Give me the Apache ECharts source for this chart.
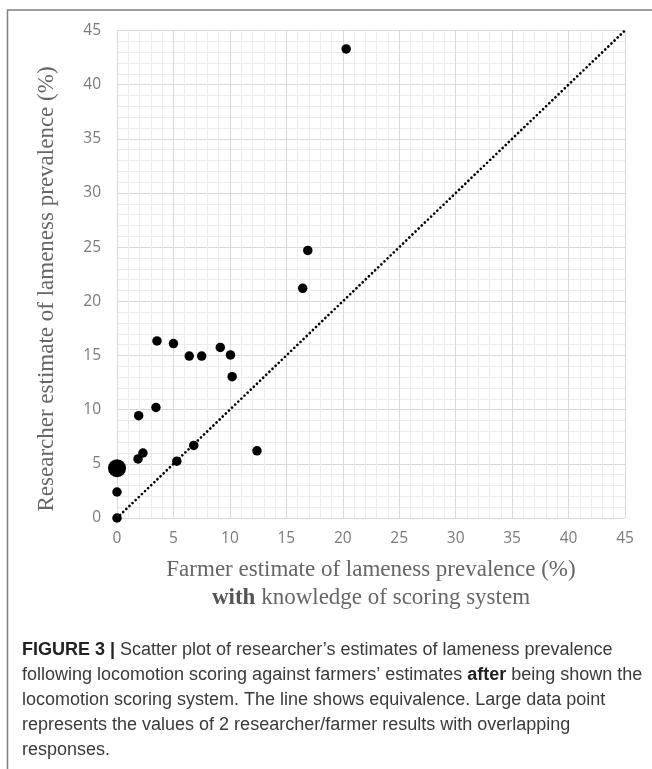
<!DOCTYPE html>
<html>
<head>
<meta charset="utf-8">
<script src="https://cdn.jsdelivr.net/npm/echarts@6/dist/echarts.min.js"></script>
<style>
html,body{margin:0;padding:0;background:#fff;}
#chart{width:652px;height:769px;}
</style>
</head>
<body>
<div id="chart"></div>
<script>
// Farmer estimate (x) vs researcher estimate (y), %
const farmerX = [0, 0, 1.86, 2.3, 1.92, 3.45, 3.54, 5.0, 6.4, 7.5, 9.15, 10.05, 10.2, 5.3, 6.8, 12.4, 16.45, 16.9, 20.3];
const researcherY = [0, 2.4, 5.45, 6.0, 9.45, 10.2, 16.35, 16.1, 14.95, 14.95, 15.75, 15.05, 13.05, 5.25, 6.7, 6.2, 21.2, 24.7, 43.3];
// Two overlapping results drawn as one large point
const overlapX = [0];
const overlapY = [4.6];
// Equivalence line
const lineX = [0, 45];
const lineY = [0, 45];
const axisMin = 0, axisMax = 45, axisStep = 5;

const xTitle = 'Farmer estimate of lameness prevalence (%)';
const xTitle2Bold = 'with';
const xTitle2Rest = ' knowledge of scoring system';
const yTitle = 'Researcher estimate of lameness prevalence (%)';
const captionLines = [
  ['FIGURE 3 |', ' Scatter plot of researcher\u2019s estimates of lameness prevalence'],
  ['', 'following locomotion scoring against farmers\u2019 estimates ', 'after', ' being shown the'],
  ['', 'locomotion scoring system. The line shows equivalence. Large data point'],
  ['', 'represents the values of 2 researcher/farmer results with overlapping'],
  ['', 'responses.']
];

const pts = farmerX.map((x, i) => [x, researcherY[i]]);
const bigPts = overlapX.map((x, i) => [x, overlapY[i]]);
const linePts = lineX.map((x, i) => [x, lineY[i]]);

function captionText() {
  return captionLines.map(parts => {
    let s = '';
    parts.forEach((p, i) => {
      if (!p) return;
      const bold = (i === 0) || (i === 2);
      s += bold ? '{b|' + p + '}' : '{n|' + p + '}';
    });
    return s;
  }).join('\n');
}

const gridLeft = 117, gridRight = 625, gridTop = 30.5, gridBottom = 518;
const serif = '"Liberation Serif", "Times New Roman", serif';
const sans = '"Liberation Sans", Arial, Helvetica, sans-serif';

const axisCommon = {
  type: 'value',
  min: axisMin,
  max: axisMax,
  interval: axisStep,
  axisLine: { show: true, lineStyle: { color: '#d9d9d9', width: 1 } },
  axisTick: { show: false },
  axisLabel: { color: '#7a7a7a', fontSize: 15.5, fontFamily: '"Open Sans", "Noto Sans", sans-serif' },
  splitLine: { show: true, lineStyle: { color: '#d9d9d9', width: 1 } },
  minorTick: { show: false, splitNumber: 5 },
  minorSplitLine: { show: true, lineStyle: { color: '#ececec', width: 1 } }
};

const chart = echarts.init(document.getElementById('chart'), null, { renderer: 'canvas' });
chart.setOption({
  backgroundColor: '#ffffff',
  animation: false,
  grid: { left: gridLeft, right: 652 - gridRight, top: gridTop, bottom: 769 - gridBottom, containLabel: false },
  xAxis: Object.assign({}, axisCommon, { axisLabel: Object.assign({}, axisCommon.axisLabel, { margin: 13 }) }),
  yAxis: Object.assign({}, axisCommon, { axisLabel: Object.assign({}, axisCommon.axisLabel, { margin: 16 }) }),
  series: [
    {
      type: 'line',
      data: linePts,
      symbol: 'none',
      lineStyle: { color: '#000', width: 2.7, type: [0.01, 4.3], cap: 'round' },
      z: 2
    },
    {
      type: 'scatter',
      data: pts,
      symbol: 'circle',
      symbolSize: 9.5,
      itemStyle: { color: '#000', opacity: 1 },
      z: 3
    },
    {
      type: 'scatter',
      data: bigPts,
      symbol: 'circle',
      symbolSize: 18,
      itemStyle: { color: '#000', opacity: 1 },
      z: 3
    }
  ],
  graphic: [
    {
      type: 'polyline',
      shape: { points: [[7.5, 769], [7.5, 10], [652, 10]] },
      style: { stroke: '#7f7f7f', lineWidth: 1.5, fill: null },
      silent: true
    },
    {
      type: 'text',
      style: {
        text: xTitle, x: 371, y: 570, textAlign: 'center', textVerticalAlign: 'middle',
        fontSize: 23, fontFamily: serif, fill: '#666666'
      }
    },
    {
      type: 'text',
      style: {
        text: '{b|' + xTitle2Bold + '}{n|' + xTitle2Rest + '}', x: 371, y: 598,
        textAlign: 'center', textVerticalAlign: 'middle',
        fontSize: 23, fontFamily: serif, fill: '#666666',
        rich: {
          b: { fontSize: 23, fontFamily: serif, fontWeight: 'bold', fill: '#555555' },
          n: { fontSize: 23, fontFamily: serif, fill: '#666666' }
        }
      }
    },
    {
      type: 'text',
      x: 47, y: 289, rotation: Math.PI / 2,
      style: {
        text: yTitle, x: 0, y: 0, textAlign: 'center', textVerticalAlign: 'middle',
        fontSize: 23, fontFamily: serif, fill: '#666666'
      }
    },
    {
      type: 'text',
      style: {
        text: captionText(), x: 22, y: 637.5, textAlign: 'left', textVerticalAlign: 'top',
        fontSize: 18, fontFamily: sans, fill: '#3a3a3a', lineHeight: 25,
        rich: {
          b: { fontSize: 18, fontFamily: sans, fontWeight: 'bold', fill: '#222222', lineHeight: 25 },
          n: { fontSize: 18, fontFamily: sans, fill: '#3a3a3a', lineHeight: 25 }
        }
      }
    }
  ]
});
</script>
</body>
</html>
